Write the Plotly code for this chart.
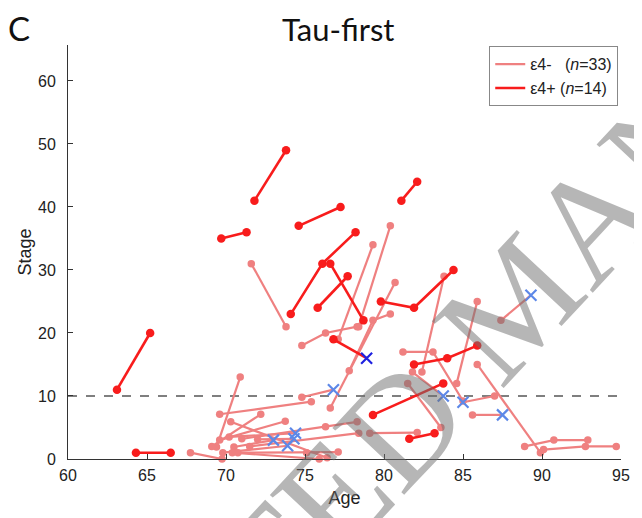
import plotly.graph_objects as go

# ---------------- data ----------------
# e4- subjects (light red). Each subject: ages, stages; last point is an X if flagged
neg_age = [
    [71.6, 73.8], [77.1, 79.3], [78.4, 80.4], [76.6, 80.7], [77.8, 79.3, 80.4],
    [74.8, 76.3, 78.3], [74.8, 76.8], [82.4, 83.8], [84.6, 85.9], [81.2, 83.1, 85.0],
    [81.8, 83.75], [81.5, 83.6], [85.6, 87.5], [85.9, 89.9], [88.9, 90.75, 92.9],
    [90.1, 92.75, 94.7], [87.4, 89.3], [87.0, 85.0], [69.4, 70.9], [69.6, 75.4],
    [69.1, 72.2], [70.3, 76.4], [69.6, 73.75], [67.75, 69.75], [70.2, 74.4],
    [72.0, 74.3], [70.5, 73.0], [69.8, 73.9], [71.0, 76.3, 78.3], [71.5, 78.4],
    [79.1, 82.1], [70.75, 75.1, 77.1], [70.4, 75.9],
]
neg_stage = [
    [31, 21], [19, 34], [21, 37], [8.1, 28], [14, 22, 23],
    [18, 20, 21], [9.8, 11], [13.8, 29], [12, 25], [17, 17, 9.2],
    [13.8, 10], [12, 5], [7, 7], [15, 1], [2, 3, 3],
    [1.5, 2, 2], [22, 26], [10, 9], [1.9, 13], [7.1, 9.1],
    [2, 7.1], [5.9, 0.2], [3, 6], [1, 0], [3.5, 4.1],
    [3.1, 3.2], [1.9, 3], [1.0, 2.1], [3.2, 5.1, 5.9], [2, 4.1],
    [4.1, 4.2], [1, 1, 1.1], [1, 0],
]
neg_last_x = [
    False, False, False, False, False,
    False, True, False, False, False,
    True, False, True, False, False,
    False, True, True, False, False,
    False, False, False, False, True,
    True, True, True, False, False,
    False, False, False,
]

# e4+ subjects (dark red)
pos_age = [
    [63.1, 65.2], [64.3, 66.5], [71.8, 73.8], [69.7, 71.3], [74.6, 77.25],
    [74.1, 76.1, 78.2], [76.6, 78.7], [75.8, 77.7], [81.1, 82.1], [79.8, 81.9, 84.4],
    [76.8, 78.9], [79.3, 83.75], [81.6, 83.2], [81.9, 84.0, 85.9],
]
pos_stage = [
    [11, 20], [1, 1], [41, 49], [35, 36], [37, 40],
    [23, 31, 36], [31, 22], [24, 29], [41, 44], [25, 24, 30],
    [19, 16], [7, 12], [3.2, 4.1], [15, 16, 18],
]
pos_last_x = [False] * 10 + [True] + [False] * 3

threshold = 10
legend_names = ["ε4-&nbsp;&nbsp;&nbsp;(<i>n</i>=33)", "ε4+ (<i>n</i>=14)"]
x_ticks = [60, 65, 70, 75, 80, 85, 90, 95]
y_ticks = [0, 10, 20, 30, 40, 50, 60]

LIGHT = "#ef8080"
DARK = "#f81c1c"
LIGHT_X = "#5d88e8"
DARK_X = "#1f22e0"


def build(ages, stages, last_x):
    lx, ly, cx, cy, xx, xy = [], [], [], [], [], []
    for a, s, lx_flag in zip(ages, stages, last_x):
        lx += a + [None]
        ly += s + [None]
        n = len(a)
        for i in range(n):
            if lx_flag and i == n - 1:
                xx.append(a[i]); xy.append(s[i])
            else:
                cx.append(a[i]); cy.append(s[i])
    return lx, ly, cx, cy, xx, xy


fig = go.Figure()

for ages, stages, lastx, col, xcol, lw, ms in [
    (neg_age, neg_stage, neg_last_x, LIGHT, LIGHT_X, 2.2, 7.5),
    (pos_age, pos_stage, pos_last_x, DARK, DARK_X, 2.6, 8.5),
]:
    lx, ly, cx, cy, xx, xy = build(ages, stages, lastx)
    fig.add_trace(go.Scatter(x=lx, y=ly, mode="lines", line=dict(color=col, width=lw),
                             showlegend=False, hoverinfo="skip", cliponaxis=False))
    fig.add_trace(go.Scatter(x=cx, y=cy, mode="markers", marker=dict(color=col, size=ms),
                             showlegend=False, cliponaxis=False))
    fig.add_trace(go.Scatter(x=xx, y=xy, mode="markers",
                             marker=dict(color=xcol, size=11, symbol="x-thin",
                                         line=dict(color=xcol, width=2.2)),
                             showlegend=False, cliponaxis=False))

# legend entries
fig.add_trace(go.Scatter(x=[None], y=[None], mode="lines", line=dict(color=LIGHT, width=2.2),
                         name=legend_names[0]))
fig.add_trace(go.Scatter(x=[None], y=[None], mode="lines", line=dict(color=DARK, width=2.6),
                         name=legend_names[1]))

fig.add_shape(type="line", xref="paper", x0=0, x1=1, yref="y", y0=threshold, y1=threshold,
              line=dict(color="#555555", width=1.4, dash="dash"), layer="below")

axis_common = dict(showgrid=False, zeroline=False, showline=True, linecolor="#333333",
                   linewidth=1, ticks="inside", ticklen=5, tickcolor="#333333",
                   tickfont=dict(family="Liberation Sans, Arial", size=16, color="#222222"),
                   mirror=False)

fig.update_layout(
    width=634, height=510,
    margin=dict(l=60, r=15, t=37, b=59),
    paper_bgcolor="white", plot_bgcolor="white",
    xaxis=dict(range=[60, 95], tickvals=x_ticks, ticklabelstandoff=2,
               title=dict(text="Age", font=dict(family="Liberation Sans, Arial", size=18, color="#222"),
                          standoff=8),
               **axis_common),
    yaxis=dict(range=[0, 65.7], tickvals=y_ticks, ticklabelstandoff=8,
               title=dict(text="Stage", font=dict(family="Liberation Sans, Arial", size=18, color="#222"),
                          standoff=1),
               **axis_common),
    legend=dict(x=0.995, xanchor="right", y=0.997, yanchor="top",
                bordercolor="#888888", borderwidth=1, bgcolor="white",
                font=dict(family="Liberation Sans, Arial", size=16, color="#222"),
                tracegroupgap=0, itemwidth=30),
    showlegend=True,
)

fig.add_annotation(text="Tau-first", xref="paper", yref="paper", x=0.488, y=1.0,
                   xanchor="center", yanchor="middle", yshift=16, showarrow=False,
                   font=dict(family="Lato, Open Sans", size=31, color="#111"))
fig.add_annotation(text="C", xref="paper", yref="paper", x=-0.112, xanchor="left",
                   y=1.0, yanchor="middle", yshift=17, height=30, showarrow=False,
                   font=dict(family="Lato, Open Sans", size=33, color="#111"))

# watermark seen on the reference
fig.add_annotation(text="ACCEPTED MANUSCRIPT", xref="paper", yref="paper", x=0.81, y=0.385,
                   xanchor="center", yanchor="middle",
                   showarrow=False, textangle=-47,
                   font=dict(family="Liberation Serif, DejaVu Serif", size=150,
                             color="rgba(110,110,110,0.5)"))

fig.write_html("out.html")
